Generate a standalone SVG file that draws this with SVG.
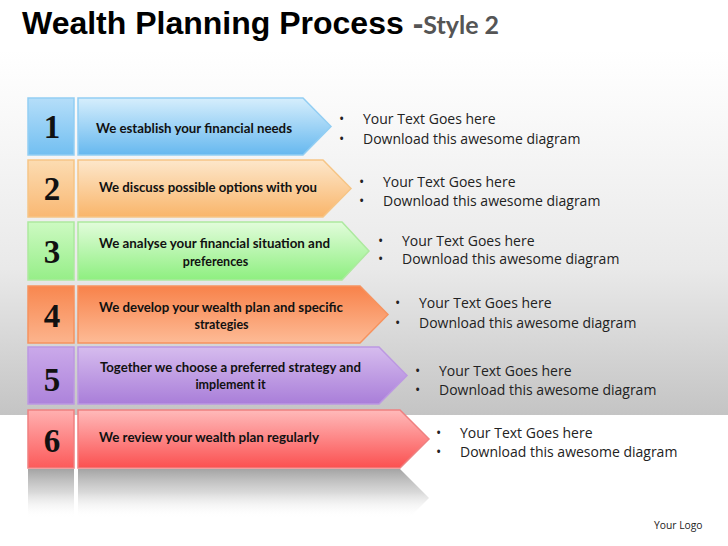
<svg xmlns="http://www.w3.org/2000/svg" width="728" height="546" viewBox="0 0 728 546">
<defs>
<linearGradient id="bg" x1="0" y1="0" x2="0" y2="1">
<stop offset="0" stop-color="#ffffff"/><stop offset="0.15" stop-color="#fafafa"/><stop offset="0.6" stop-color="#e9e9e9"/><stop offset="1" stop-color="#c4c4c4"/>
</linearGradient>
<linearGradient id="g1" x1="0" y1="0" x2="0" y2="1"><stop offset="0" stop-color="#d6eefc"/><stop offset="1" stop-color="#66b8ef"/></linearGradient>
<linearGradient id="n1" x1="0" y1="0" x2="0" y2="1"><stop offset="0" stop-color="#b5def9"/><stop offset="1" stop-color="#72bff1"/></linearGradient>
<linearGradient id="g2" x1="0" y1="0" x2="0" y2="1"><stop offset="0" stop-color="#fde7cb"/><stop offset="1" stop-color="#f9b56a"/></linearGradient>
<linearGradient id="n2" x1="0" y1="0" x2="0" y2="1"><stop offset="0" stop-color="#fcdcb2"/><stop offset="1" stop-color="#f9b873"/></linearGradient>
<linearGradient id="g3" x1="0" y1="0" x2="0" y2="1"><stop offset="0" stop-color="#e2fcdb"/><stop offset="1" stop-color="#8eef80"/></linearGradient>
<linearGradient id="n3" x1="0" y1="0" x2="0" y2="1"><stop offset="0" stop-color="#cdfac2"/><stop offset="1" stop-color="#96ee88"/></linearGradient>
<linearGradient id="g4" x1="0" y1="0" x2="0" y2="1"><stop offset="0" stop-color="#f8824a"/><stop offset="1" stop-color="#fdbb96"/></linearGradient>
<linearGradient id="n4" x1="0" y1="0" x2="0" y2="1"><stop offset="0" stop-color="#f8874f"/><stop offset="1" stop-color="#fcb48d"/></linearGradient>
<linearGradient id="g5" x1="0" y1="0" x2="0" y2="1"><stop offset="0" stop-color="#d6bcee"/><stop offset="1" stop-color="#a97ed9"/></linearGradient>
<linearGradient id="n5" x1="0" y1="0" x2="0" y2="1"><stop offset="0" stop-color="#caa9ea"/><stop offset="1" stop-color="#ad83db"/></linearGradient>
<linearGradient id="g6" x1="0" y1="0" x2="0" y2="1"><stop offset="0" stop-color="#ffbaba"/><stop offset="1" stop-color="#fb5050"/></linearGradient>
<linearGradient id="n6" x1="0" y1="0" x2="0" y2="1"><stop offset="0" stop-color="#ffb0b0"/><stop offset="1" stop-color="#fc5a5a"/></linearGradient>
<linearGradient id="refl" x1="0" y1="0" x2="0" y2="1">
<stop offset="0" stop-color="#a4a4a4" stop-opacity="1"/><stop offset="0.4" stop-color="#cfcfcf" stop-opacity="0.8"/><stop offset="0.85" stop-color="#ffffff" stop-opacity="0"/>
</linearGradient>
</defs>
<style>
.num{font-family:"Liberation Serif",serif;font-weight:bold;font-size:33px;fill:#111;text-anchor:middle}
.lbl{font-family:Lato,"Open Sans","Liberation Sans",sans-serif;font-weight:bold;font-size:12.5px;fill:#111}
.mid{text-anchor:middle}
.bul{font-family:"Open Sans","Liberation Sans",sans-serif;font-size:14px;fill:#222}
.box{stroke-width:1.5}
</style>
<rect x="0" y="0" width="728" height="546" fill="#ffffff"/>
<rect x="0" y="50" width="728" height="365" fill="url(#bg)"/>
<text x="22" y="34" font-family="Liberation Sans, Arial, sans-serif" font-weight="bold" font-size="32" fill="#000">Wealth Planning Process <tspan fill="#555555">-</tspan><tspan fill="#555555" font-family="Lato, Open Sans, sans-serif" font-size="25">Style 2</tspan></text>

<g id="step1">
<rect class="box" x="28" y="98" width="46" height="57" fill="url(#n1)" stroke="#92cef3"/>
<polygon class="box" points="78,98 303,98 331,126.5 303,155 78,155" fill="url(#g1)" stroke="#92cef3"/>
<text class="num" x="52" y="138">1</text>
<text class="lbl" x="96" y="133" textLength="196" lengthAdjust="spacingAndGlyphs">We establish your financial needs</text>
<text class="bul" x="339" y="124">•<tspan x="363">Your Text Goes here</tspan></text>
<text class="bul" x="339" y="144">•<tspan x="363">Download this awesome diagram</tspan></text>
</g>
<g id="step2">
<rect class="box" x="28" y="160" width="46" height="57" fill="url(#n2)" stroke="#f6c586"/>
<polygon class="box" points="78,160 323,160 351,188.5 323,217 78,217" fill="url(#g2)" stroke="#f6c586"/>
<text class="num" x="52" y="200">2</text>
<text class="lbl" x="99" y="192" textLength="218" lengthAdjust="spacingAndGlyphs">We discuss possible options with you</text>
<text class="bul" x="359" y="187">•<tspan x="383">Your Text Goes here</tspan></text>
<text class="bul" x="359" y="206">•<tspan x="383">Download this awesome diagram</tspan></text>
</g>
<g id="step3">
<rect class="box" x="28" y="222" width="46" height="58" fill="url(#n3)" stroke="#ade99f"/>
<polygon class="box" points="78,222 342,222 369,251 342,280 78,280" fill="url(#g3)" stroke="#ade99f"/>
<text class="num" x="52" y="263">3</text>
<text class="lbl mid" x="214.5" y="248" textLength="231" lengthAdjust="spacingAndGlyphs">We analyse your financial situation and</text>
<text class="lbl mid" x="215.5" y="266">preferences</text>
<text class="bul" x="378" y="246">•<tspan x="402">Your Text Goes here</tspan></text>
<text class="bul" x="378" y="264">•<tspan x="402">Download this awesome diagram</tspan></text>
</g>
<g id="step4">
<rect class="box" x="28" y="286" width="46" height="57" fill="url(#n4)" stroke="#f6935f"/>
<polygon class="box" points="78,286 360,286 388,314.5 360,343 78,343" fill="url(#g4)" stroke="#f6935f"/>
<text class="num" x="52" y="327">4</text>
<text class="lbl mid" x="221" y="312" textLength="244" lengthAdjust="spacingAndGlyphs">We develop your wealth plan and specific</text>
<text class="lbl mid" x="221.5" y="329">strategies</text>
<text class="bul" x="395" y="308">•<tspan x="419">Your Text Goes here</tspan></text>
<text class="bul" x="395" y="328">•<tspan x="419">Download this awesome diagram</tspan></text>
</g>
<g id="step5">
<rect class="box" x="28" y="347" width="46" height="57" fill="url(#n5)" stroke="#bc98e2"/>
<polygon class="box" points="78,347 379,347 407,375.5 379,404 78,404" fill="url(#g5)" stroke="#bc98e2"/>
<text class="num" x="52" y="391">5</text>
<text class="lbl mid" x="230.5" y="372" textLength="261" lengthAdjust="spacingAndGlyphs">Together we choose a preferred strategy and</text>
<text class="lbl mid" x="230.5" y="389">implement it</text>
<text class="bul" x="415" y="376">•<tspan x="439">Your Text Goes here</tspan></text>
<text class="bul" x="415" y="395">•<tspan x="439">Download this awesome diagram</tspan></text>
</g>
<g id="step6">
<rect class="box" x="28" y="410" width="46" height="58" fill="url(#n6)" stroke="#ef8080"/>
<polygon class="box" points="78,410 400,410 429,439 400,468 78,468" fill="url(#g6)" stroke="#ef8080"/>
<text class="num" x="52" y="452">6</text>
<text class="lbl" x="99" y="442" textLength="220" lengthAdjust="spacingAndGlyphs">We review your wealth plan regularly</text>
<text class="bul" x="436" y="438">•<tspan x="460">Your Text Goes here</tspan></text>
<text class="bul" x="436" y="457">•<tspan x="460">Download this awesome diagram</tspan></text>
</g>
<g id="reflection">
<rect x="28" y="469" width="46" height="58" fill="url(#refl)"/>
<polygon points="78,469 400,469 429,498 400,527 78,527" fill="url(#refl)"/>
</g>
<text x="654" y="529" font-family="Open Sans, sans-serif" font-size="10.3" fill="#222">Your Logo</text>
</svg>
